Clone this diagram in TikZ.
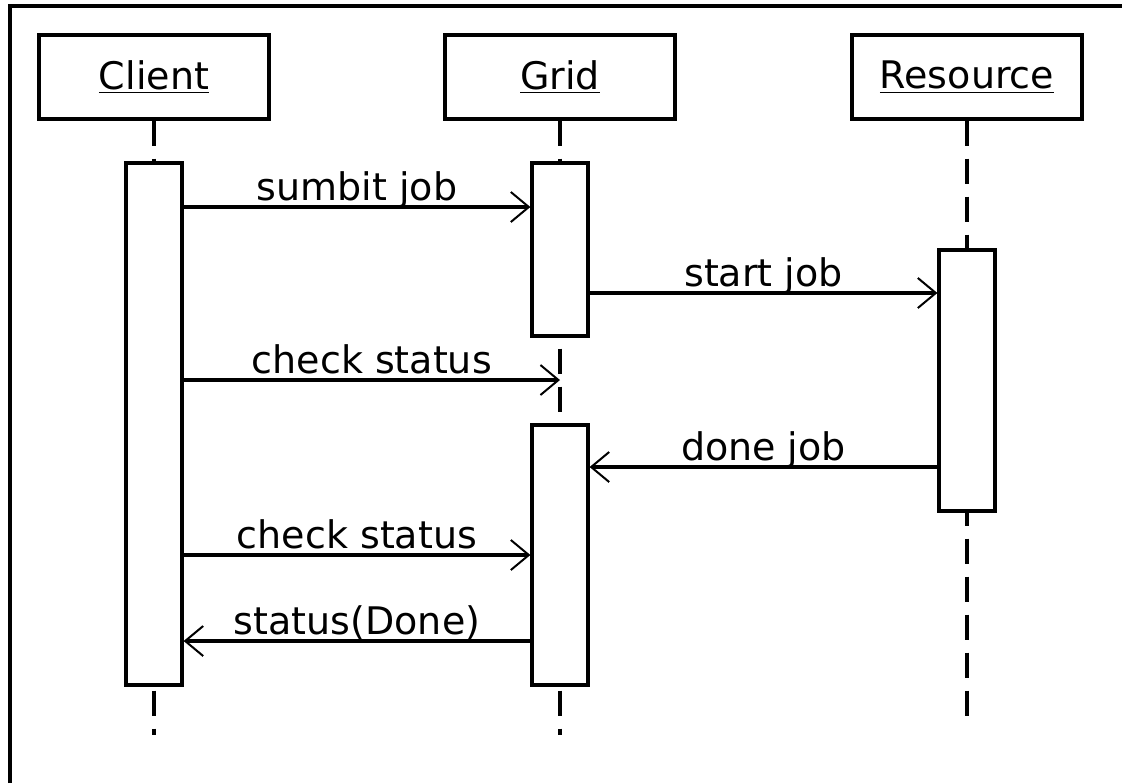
\documentclass[tikz,border=0pt]{standalone}
\usepackage{fontspec}
\setmainfont{DejaVu Sans}
\usetikzlibrary{arrows.meta}

\begin{document}
\begin{tikzpicture}[x=0.5pt, y=-0.5pt, line width=1.6pt,
  head/.style={draw, fill=white, minimum width=115pt, minimum height=42pt, inner sep=0pt},
  bar/.style={draw, fill=white, minimum width=28pt, inner sep=0pt},
  life/.style={dash pattern=on 12.5pt off 6.5pt},
  msg/.style={-{Straight Barb[length=9pt, width=15pt, line width=1pt]}},
  lbl/.style={anchor=base, yshift=3.5pt, inner sep=0pt}]

  \fontsize{19}{23}\selectfont

  \newcommand\xC{154}
  \newcommand\xG{560}
  \newcommand\xR{967}

  \useasboundingbox (0,0) rectangle (1122,783);
  \draw (10,783) -- (10,6) -- (1122,6); % frame

  %% objects
  \node[head] (client) at (\xC,77) {\underline{Client}};
  \node[head] (grid) at (\xG,77) {\underline{Grid}};
  \node[head] (res) at (\xR,77) {\underline{Resource}};

  %% lifelines
  \coordinate (clientend) at (\xC,735);
  \coordinate (gridend) at (\xG,735);
  \coordinate (resend) at (\xR,725);
  \draw[life] (client.south) -- (clientend);
  \draw[life] (grid.south) -- (gridend);
  \draw[life] (res.south) -- (resend);

  %% activation bars
  \node[bar, minimum height=261pt] (clientact) at (\xC,424) {};
  \node[bar, minimum height=86.5pt] (gridact1) at (\xG,249.5) {};
  \node[bar, minimum height=130pt] (gridact2) at (\xG,555) {};
  \node[bar, minimum height=130.5pt] (resact) at (\xR,380.5) {};

  %% messages
  \draw[msg] (clientact.east |- 0,207) -- node[lbl]{sumbit job} (gridact1.west |- 0,207);
  \draw[msg] (gridact1.east |- 0,293) -- node[lbl]{start job} (resact.west |- 0,293);
  \draw[msg] (clientact.east |- 0,380) -- node[lbl]{check status} (grid |- 0,380);
  \draw[msg] (resact.west |- 0,467) -- node[lbl]{done job} (gridact2.east |- 0,467);
  \draw[msg] (clientact.east |- 0,555) -- node[lbl]{check status} (gridact2.west |- 0,555);
  \draw[msg] (gridact2.west |- 0,641) -- node[lbl]{status(Done)} (clientact.east |- 0,641);

\end{tikzpicture}
\end{document}
